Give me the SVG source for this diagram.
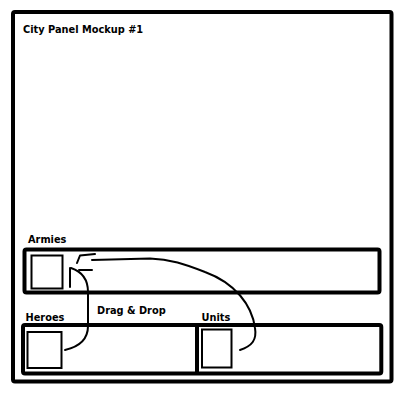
<svg xmlns="http://www.w3.org/2000/svg" width="400" height="400" viewBox="0 0 400 400">
<style>
.panel{fill:none;stroke:#000;stroke-width:4;stroke-linejoin:round}
.box{fill:#fff;stroke:#000;stroke-width:2}
.ink{fill:none;stroke:#000;stroke-width:2;stroke-linecap:round;stroke-linejoin:round}
text{font-family:"DejaVu Sans",Verdana,sans-serif;font-weight:bold;font-size:9.8px;fill:#000}
</style>
<rect width="400" height="400" fill="#fff"/>
<g id="frame">
<rect class="panel" x="13" y="12" width="378.5" height="369.5" rx="2"/>
<text x="23" y="33">City Panel Mockup #1</text>
</g>
<g id="armies">
<rect class="panel" x="24.5" y="249.5" width="355" height="43" rx="2"/>
<rect class="box" x="31.5" y="255.5" width="31" height="33"/>
<text x="28" y="242.5">Armies</text>
</g>
<g id="heroes">
<rect class="panel" x="23" y="325" width="358.3" height="48.5" rx="2"/>
<line class="panel" x1="197" y1="325" x2="197" y2="373.5"/>
<rect class="box" x="27.5" y="332" width="34" height="36"/>
<text x="25.5" y="320.5">Heroes</text>
</g>
<g id="units">
<rect class="box" x="202" y="329.5" width="29.5" height="38"/>
<text x="201.5" y="320.5">Units</text>
</g>
<g id="connectors">
<path class="ink" d="M65,350 C78,347 88,340 88,326 L88,292 C88,281 83,272 71,268"/>
<path class="ink" d="M70,268 L70,287 M79,270 L92,270"/>
<path class="ink" d="M240,350 C252,346 257,340 255,328 C252,305 235,283 205,272 C185,264 170,259 150,258.5 L92,260"/>
<path class="ink" d="M95,254 L80,255.5 L77,263"/>
<text x="97" y="313.5">Drag &amp; Drop</text>
</g>
</svg>
